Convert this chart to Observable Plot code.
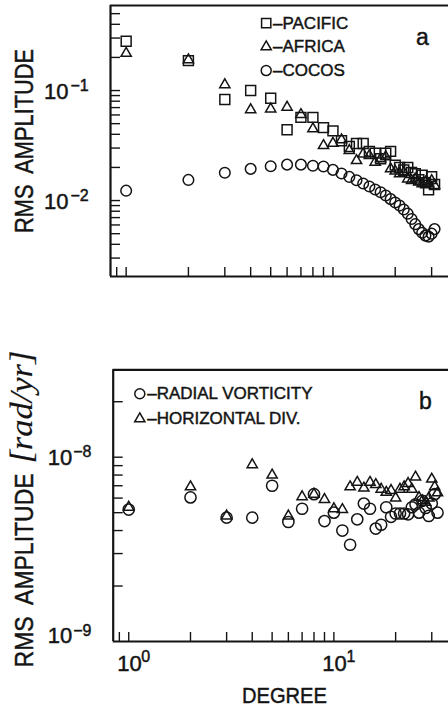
<!DOCTYPE html>
<html>
<head>
<meta charset="utf-8">
<script src="https://cdn.jsdelivr.net/npm/d3@7"></script>
<script src="https://cdn.jsdelivr.net/npm/@observablehq/plot@0.6"></script>
<style>
  html, body { margin: 0; padding: 0; background: #fff; }
  #chart { width: 448px; height: 707px; overflow: hidden; background: #fff; }
  #chart svg { display: block; }
  #chart text { paint-order: stroke; stroke: #141414; stroke-width: 0.45px; }
  #chart text.thin { stroke-width: 0.15px; }
</style>
</head>
<body>
<div id="chart"></div>
<script>
// ---------- Panel a : RMS amplitude of plate velocity per degree ----------
const degreesA = [1,2,3,4,5,6,7,8,9,10,11,12,13,14,15,16,17,18,19,20,21,22,23,24,25,26,27,28,29,30,31];
const pacific = [0.281,0.187,0.083,0.100,0.085,0.044,0.057,0.057,0.046,0.043,0.035,0.031,0.033,0.033,0.028,0.027,0.024,0.027,0.028,0.021,0.020,0.019,0.020,0.018,0.0175,0.0155,0.017,0.0145,0.0125,0.0165,0.014];
const africa  = [0.218,0.190,0.113,0.067,0.068,0.0706,0.0605,0.0448,0.0316,0.0332,0.0356,0.0285,0.0231,0.0265,0.0256,0.0223,0.024,0.025,0.0194,0.0185,0.0175,0.018,0.0157,0.0152,0.0157,0.0147,0.0142,0.0147,0.0142,0.0152,0.0137];
const cocos   = [0.0123,0.0154,0.0179,0.0194,0.0205,0.0212,0.0212,0.0207,0.0204,0.0190,0.0176,0.0164,0.0153,0.0143,0.0134,0.0126,0.0119,0.0111,0.0103,0.0096,0.0090,0.0083,0.0076,0.0068,0.0061,0.0055,0.0051,0.0048,0.0047,0.0050,0.0055];
const legendA = ["PACIFIC", "AFRICA", "COCOS"];
const symbolsA = ["square", "triangle", "circle"];

// ---------- Panel b : radial vorticity / horizontal divergence ----------
const degreesB = [1,2,3,4,5,6,7,8,9,10,11,12,13,14,15,16,17,18,19,20,21,22,23,24,25,26,27,28,29,30,31,32];
const vorticity  = [5.2e-9,6.05e-9,4.7e-9,4.7e-9,7.0e-9,4.45e-9,5.25e-9,6.3e-9,4.5e-9,5.0e-9,4.0e-9,3.35e-9,4.6e-9,5.6e-9,5.25e-9,4.1e-9,4.3e-9,5.35e-9,4.75e-9,4.95e-9,4.95e-9,4.95e-9,4.9e-9,5.35e-9,5.55e-9,5.0e-9,5.8e-9,5.3e-9,4.8e-9,5.6e-9,6.3e-9,5.0e-9];
const divergence = [5.35e-9,6.9e-9,4.8e-9,9.1e-9,8.0e-9,4.8e-9,6.1e-9,6.3e-9,5.9e-9,5.25e-9,5.2e-9,6.9e-9,7.3e-9,6.8e-9,7.3e-9,7.1e-9,6.7e-9,6.45e-9,6.6e-9,6.0e-9,6.7e-9,6.9e-9,7.2e-9,6.7e-9,7.8e-9,6.05e-9,5.8e-9,5.7e-9,6.0e-9,7.6e-9,6.9e-9,6.4e-9];
const legendB = ["RADIAL VORTICITY", "HORIZONTAL DIV."];
const symbolsB = ["circle", "triangle"];

// ---------- Axes ----------
const xDomain = [0.84, 36.2];
const xTicks = [0.9,1,2,3,4,5,6,7,8,9,10,20,30];
const xLabels = [1, 10];
const xExponents = ["0", "1"];
const yDomainA = [0.00204, 0.593];
const yTicksA = [0.003,0.004,0.005,0.006,0.007,0.008,0.009,0.01,0.02,0.03,0.04,0.05,0.06,0.07,0.08,0.09,0.1,0.2,0.3,0.4,0.5];
const yLabelsA = [0.1, 0.01];
const yExponentsA = ["\u22121", "\u22122"];
const yDomainB = [1e-9, 2.98e-8];
const yTicksB = [2e-9,3e-9,4e-9,5e-9,6e-9,7e-9,8e-9,9e-9,1e-8,2e-8];
const yLabelsB = [1e-8, 1e-9];
const yExponentsB = ["\u22128", "\u22129"];

const font = "'Liberation Sans', Arial, Helvetica, sans-serif";
const ink = "#141414";
const markStyle = {stroke: ink, strokeWidth: 1.5, fill: "none"};

const rowsA = degreesA.map((d, i) => ({degree: d, pacific: pacific[i], africa: africa[i], cocos: cocos[i]}));
const rowsB = degreesB.map((d, i) => ({degree: d, vorticity: vorticity[i], divergence: divergence[i]}));

const plotA = Plot.plot({
  width: 448, height: 300,
  marginLeft: 110, marginRight: 0, marginTop: 5, marginBottom: 24,
  style: {fontFamily: font, color: ink, background: "white"},
  x: {type: "log", domain: xDomain, axis: null},
  y: {type: "log", domain: yDomainA, axis: null},
  marks: [
    Plot.axisY({ticks: yTicksA, anchor: "left", tickSize: 10, dx: 10, tickFormat: () => "", label: null, stroke: ink, strokeWidth: 1.4}),
    Plot.axisX({ticks: xTicks, anchor: "bottom", tickSize: 9, dy: -9, tickFormat: () => "", label: null, stroke: ink, strokeWidth: 1.4}),
    Plot.ruleX([xDomain[0]], {stroke: ink, strokeWidth: 2.2}),
    Plot.ruleY(yDomainA, {stroke: ink, strokeWidth: 2.2}),
    Plot.text(yLabelsA, {y: d => d, frameAnchor: "left", text: () => "10", textAnchor: "end", lineAnchor: "middle", dx: -42, dy: 1, fontSize: 22, fill: ink}),
    Plot.text(yLabelsA, {y: d => d, frameAnchor: "left", text: (d, i) => yExponentsA[i], textAnchor: "start", lineAnchor: "middle", dx: -40, dy: -5, fontSize: 16, fill: ink}),
    Plot.text(["RMS  AMPLITUDE"], {frameAnchor: "left", rotate: -90, dx: -86, textAnchor: "middle", lineAnchor: "middle", fontSize: 25, fill: ink}),
    Plot.dot(rowsA, {x: "degree", y: "pacific", symbol: "square", r: 5.6, ...markStyle}),
    Plot.dot(rowsA, {x: "degree", y: "africa", symbol: "triangle", r: 3.8, ...markStyle}),
    Plot.dot(rowsA, {x: "degree", y: "cocos", symbol: "circle", r: 5.3, ...markStyle}),
    ...legendA.map((name, i) => Plot.dot([name], {x: null, y: null, frameAnchor: "top-left", dx: 155.7, dy: 17.7 + 23.7 * i, symbol: symbolsA[i], r: symbolsA[i] === "triangle" ? 3.8 : symbolsA[i] === "square" ? 5.2 : 5, ...markStyle})),
    ...legendA.map((name, i) => Plot.text([name], {frameAnchor: "top-left", dx: 162.5, dy: 17.7 + 23.7 * i, text: d => "\u2013" + d, textAnchor: "start", lineAnchor: "middle", fontSize: 17, fill: ink})),
    Plot.text(["a"], {frameAnchor: "top-right", dx: -26, dy: 31.7, textAnchor: "middle", lineAnchor: "middle", fontSize: 23, fill: ink})
  ]
});

const plotB = Plot.plot({
  width: 448, height: 407,
  marginLeft: 112.7, marginRight: 0, marginTop: 69.3, marginBottom: 66,
  style: {fontFamily: font, color: ink, background: "white"},
  x: {type: "log", domain: xDomain, axis: null},
  y: {type: "log", domain: yDomainB, axis: null},
  marks: [
    Plot.axisY({ticks: yTicksB, anchor: "left", tickSize: 10, dx: 10, tickFormat: () => "", label: null, stroke: ink, strokeWidth: 1.4}),
    Plot.axisX({ticks: xTicks, anchor: "bottom", tickSize: 9, dy: -9, tickFormat: () => "", label: null, stroke: ink, strokeWidth: 1.4}),
    Plot.ruleX([xDomain[0]], {stroke: ink, strokeWidth: 2.2}),
    Plot.ruleY(yDomainB, {stroke: ink, strokeWidth: 2.2}),
    ...yLabelsB.map((v, i) => Plot.text([v], {y: d => d, frameAnchor: "left", text: () => "10", textAnchor: "end", lineAnchor: "middle", dx: -41, dy: i === 0 ? 1 : -5.5, fontSize: 22, fill: ink})),
    ...yLabelsB.map((v, i) => Plot.text([v], {y: d => d, frameAnchor: "left", text: () => yExponentsB[i], textAnchor: "start", lineAnchor: "middle", dx: -40, dy: i === 0 ? -5 : -11, fontSize: 16, fill: ink})),
    Plot.text(xLabels, {x: d => d, frameAnchor: "bottom", text: () => "10", textAnchor: "middle", lineAnchor: "middle", dx: 0.7, dy: 22, fontSize: 22, fill: ink}),
    Plot.text(xLabels, {x: d => d, frameAnchor: "bottom", text: (d, i) => xExponents[i], textAnchor: "start", lineAnchor: "middle", dx: 12.5, dy: 15, fontSize: 16, fill: ink}),
    Plot.text(["DEGREE"], {frameAnchor: "bottom", dx: 3.6, dy: 54.5, textAnchor: "middle", lineAnchor: "middle", fontSize: 22, fill: ink}),
    Plot.text(["RMS  AMPLITUDE"], {frameAnchor: "left", rotate: -90, dx: -88.7, dy: 64.8, textAnchor: "middle", lineAnchor: "middle", fontSize: 25, fill: ink}),
    Plot.text(["[rad/yr]"], {frameAnchor: "left", rotate: -90, dx: -91.7, dy: -98.6, textAnchor: "middle", lineAnchor: "middle", fontSize: 32, fontStyle: "italic", fontFamily: "'Liberation Serif', 'DejaVu Serif', serif", fill: ink}),
    Plot.dot(rowsB, {x: "degree", y: "divergence", symbol: "triangle", r: 3.8, ...markStyle}),
    Plot.dot(rowsB, {x: "degree", y: "vorticity", symbol: "circle", r: 5.6, ...markStyle}),
    ...legendB.map((name, i) => Plot.dot([name], {x: null, y: null, frameAnchor: "top-left", dx: 26.6, dy: 24 + 25 * i, symbol: symbolsB[i], r: symbolsB[i] === "triangle" ? 3.8 : 5, ...markStyle})),
    ...legendB.map((name, i) => Plot.text([name], {frameAnchor: "top-left", dx: 34, dy: 24 + 25 * i, text: d => "\u2013" + d, textAnchor: "start", lineAnchor: "middle", fontSize: 17, fill: ink})),
    Plot.text(["b"], {frameAnchor: "top-right", dx: -23, dy: 31.7, textAnchor: "middle", lineAnchor: "middle", fontSize: 23, fill: ink})
  ]
});

// Fit the tall, narrow-looking axis titles and DEGREE label to the lengths in the figure
function fit(svg, match, length, cls) {
  d3.select(svg).selectAll("text")
    .filter(function() { return this.textContent === match; })
    .attr("textLength", length)
    .attr("lengthAdjust", "spacingAndGlyphs")
    .classed(cls || "", !!cls);
}
fit(plotA, "RMS  AMPLITUDE", 184);
fit(plotB, "RMS  AMPLITUDE", 194);
fit(plotB, "DEGREE", 85);
fit(plotB, "[rad/yr]", 113, "thin");

const chart = document.getElementById("chart");
chart.appendChild(plotA);
chart.appendChild(plotB);
</script>
</body>
</html>
